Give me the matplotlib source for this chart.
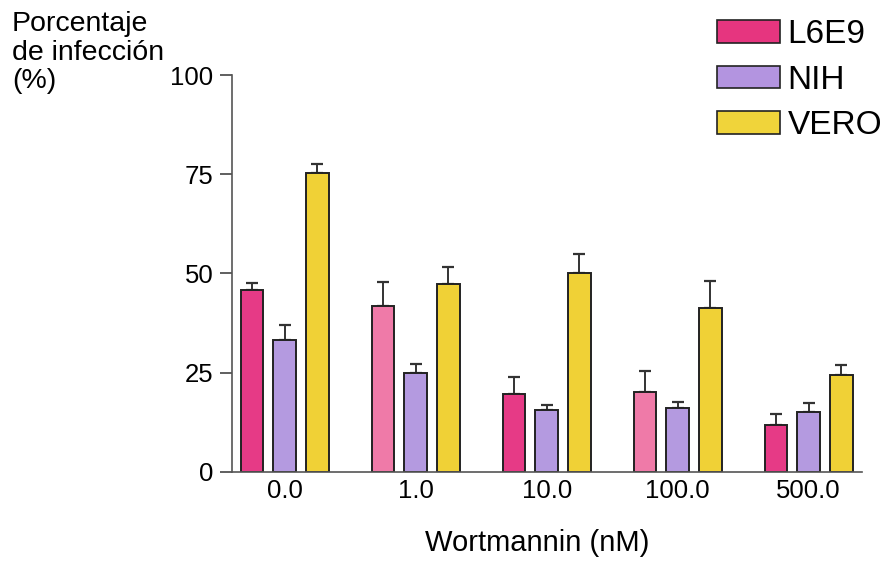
import matplotlib.pyplot as plt
import numpy as np

plt.rcParams['font.family'] = ['Liberation Sans', 'DejaVu Sans']

# Data
doses = ["0.0", "1.0", "10.0", "100.0", "500.0"]
cells = ["L6E9", "NIH", "VERO"]
l6e9 = [45.8, 41.7, 19.6, 20.2, 11.8]
nih = [33.2, 24.8, 15.5, 16.0, 15.0]
vero = [75.2, 47.2, 50.0, 41.2, 24.4]
l6e9_err = [1.8, 6.2, 4.2, 5.2, 2.7]
nih_err = [3.9, 2.4, 1.3, 1.6, 2.4]
vero_err = [2.3, 4.4, 5.0, 6.9, 2.5]

values = [l6e9, nih, vero]
errors = [l6e9_err, nih_err, vero_err]

# the pink bars in the scan alternate between a deep and a paler shade
bar_colors = [
    ["#e63a86", "#ef7aa8", "#e63a86", "#ef7aa8", "#e63a86"],
    ["#b49ae0"] * 5,
    ["#f0d136"] * 5,
]
legend_colors = ["#e6357f", "#b394e0", "#f0d43a"]

fig = plt.figure(figsize=(8.9, 5.62), dpi=100)
ax = fig.add_axes([0.2603, 0.1607, 0.7079, 0.7058])

x = np.arange(len(doses))
width = 0.172
step = 0.25
for i, (vals, errs) in enumerate(zip(values, errors)):
    pos = x + (i - 1) * step
    ax.bar(pos, vals, width, color=bar_colors[i], edgecolor="#222222",
           linewidth=1.4, zorder=2)
    ax.errorbar(pos, vals, yerr=[np.zeros(len(errs)), errs], fmt="none",
                ecolor="#333333", elinewidth=1.4, capsize=4, capthick=1.6,
                zorder=1)

ax.set_xlim(-0.405, 4.405)
ax.set_ylim(0, 100)
ax.set_yticks([0, 25, 50, 75, 100])
ax.set_xticks(x)
ax.set_xticklabels(doses)
ax.tick_params(axis="x", length=0, pad=5, labelsize=18.5)
ax.tick_params(axis="y", length=9, width=1.2, pad=4, labelsize=18.5,
               color="#444444")

for side in ["top", "right"]:
    ax.spines[side].set_visible(False)
for side in ["left", "bottom"]:
    ax.spines[side].set_color("#555555")
    ax.spines[side].set_linewidth(1.2)

ax.set_xlabel("Wortmannin (nM)", fontsize=21)
ax.xaxis.set_label_coords(0.485, -0.145)

fig.text(12 / 890, 1 - 11 / 562, "Porcentaje\nde infección\n(%)", fontsize=20.5,
         ha="left", va="top", linespacing=1.13)

handles = [plt.Rectangle((0, 0), 1, 1, facecolor=c, edgecolor="#222222",
                         linewidth=1.2) for c in legend_colors]
fig.legend(handles, cells, loc="upper left",
           bbox_to_anchor=(717 / 890, 1 - 19 / 562), frameon=False,
           fontsize=24, handlelength=1.9, handleheight=0.66,
           handletextpad=0.22, labelspacing=0.44, borderpad=0,
           borderaxespad=0)

fig.savefig("out.png", dpi=100, facecolor="white")
